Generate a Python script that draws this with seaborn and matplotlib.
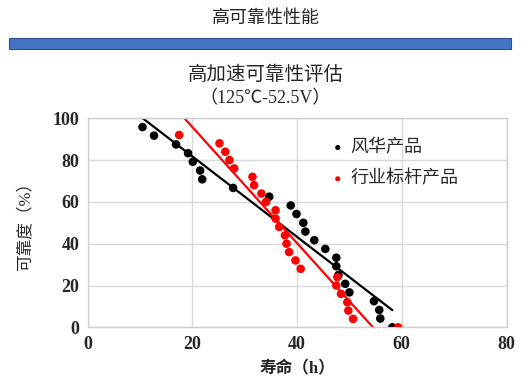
import numpy as np
import matplotlib
matplotlib.use("Agg")
import matplotlib.pyplot as plt
from matplotlib.patches import Rectangle
import seaborn as sns

# data
fh_life = [10.5, 12.7, 16.9, 19.2, 20.1, 21.5, 21.9, 27.8, 34.7, 38.8, 39.9, 41.2,
           41.6, 43.3, 45.4, 47.5, 47.5, 47.9, 49.2, 50.0, 54.7, 55.7, 55.9, 58.2]
fh_rel = [95.8, 91.7, 87.5, 83.3, 79.2, 75.0, 70.8, 66.7, 62.5, 58.3, 54.2, 50.0,
          45.8, 41.7, 37.5, 33.3, 29.2, 25.0, 20.8, 16.7, 12.5, 8.3, 4.2, 0.0]
bench_life = [17.5, 25.2, 26.3, 27.1, 28.0, 31.5, 31.8, 33.2, 34.1, 35.9, 35.9, 36.6,
              37.7, 38.0, 38.5, 39.7, 40.7, 47.7, 47.5, 48.4, 49.6, 49.8, 50.7, 59.3]
bench_rel = [92, 88, 84, 80, 76, 72, 68, 64, 60, 56, 52, 48,
             44, 40, 36, 32, 28, 24, 20, 16, 12, 8, 4, 0]

series_names = ["风华产品", "行业标杆产品"]
series_colors = ["#000000", "#FF0000"]
x_ticks = [0, 20, 40, 60, 80]
y_ticks = [0, 20, 40, 60, 80, 100]

sns.set_style("white")
plt.rcParams["font.family"] = ["Liberation Serif", "Noto Sans CJK SC"]

fig = plt.figure(figsize=(5.31, 3.89), dpi=100)
ax = fig.add_axes([0.1648, 0.1586, 0.7891, 0.5373])

# header and blue bar
fig.text(0.5, 1 - 19 / 389, "高可靠性性能", ha="center", va="center", fontsize=13)
fig.patches.append(Rectangle((9 / 531, 1 - 49 / 389), 502 / 531, 11 / 389,
                             transform=fig.transFigure, facecolor="#4472C4",
                             edgecolor="#2F528F", linewidth=0.8))

# chart title
fig.text(0.5, 1 - 75 / 389, "高加速可靠性评估", ha="center", va="center", fontsize=14)
fig.text(0.5, 1 - 99 / 389, "（125℃-52.5V）", ha="center", va="center", fontsize=13)

for xs, ys, name, col in zip([fh_life, bench_life], [fh_rel, bench_rel],
                             series_names, series_colors):
    sns.scatterplot(x=xs, y=ys, color=col, s=38, edgecolor="none", label=name,
                    ax=ax, zorder=3)
    sns.regplot(x=np.array(xs), y=np.array(ys), scatter=False, ci=None,
                color=col, line_kws={"linewidth": 1.6}, ax=ax)

ax.set_xlim(0, 80)
ax.set_ylim(0, 100)
ax.set_xticks(x_ticks)
ax.set_yticks(y_ticks)
ax.grid(True, color="#D9D9D9", linewidth=1)
ax.set_axisbelow(True)
for sp in ax.spines.values():
    sp.set_color("#D0D0D0")
    sp.set_linewidth(1)
ax.tick_params(length=0, labelsize=13, pad=6)
for lbl in ax.get_xticklabels() + ax.get_yticklabels():
    lbl.set_fontweight("bold")

ax.set_xlabel("寿命（h）", fontsize=12, fontweight="bold", labelpad=6)
ax.set_ylabel("可靠度（%）", fontsize=12, labelpad=14)

ax.legend(loc="upper left", bbox_to_anchor=(0.58, 0.90), frameon=False,
          fontsize=13, handlelength=0.8, handletextpad=0.3, labelspacing=0.78,
          borderpad=0, borderaxespad=0, markerscale=0.6)

fig.savefig("out.png", dpi=100)
